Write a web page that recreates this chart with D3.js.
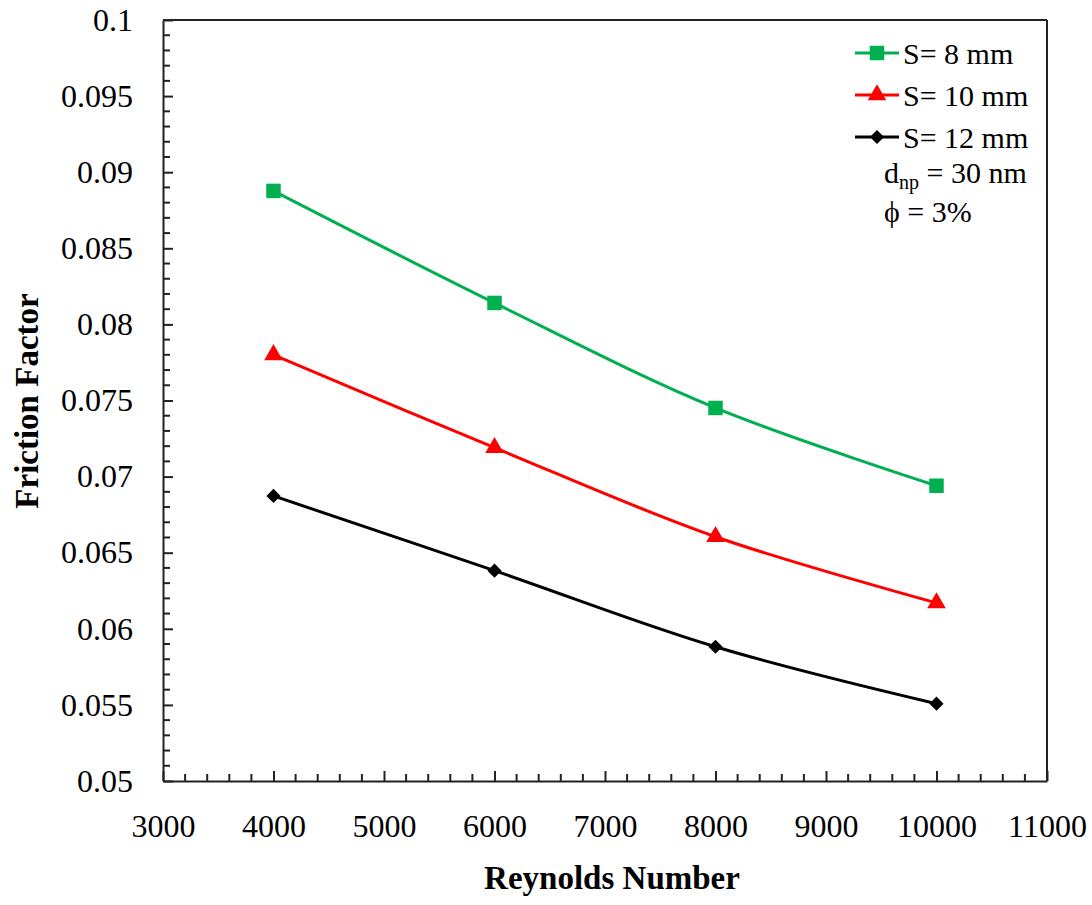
<!DOCTYPE html>
<html>
<head>
<meta charset="utf-8">
<script src="https://cdn.jsdelivr.net/npm/d3@7"></script>
<style>
  body { margin: 0; background: #fff; }
</style>
</head>
<body>
<div id="chart"></div>
<script>

let reynolds = [4000, 6000, 8000, 10000];
let f_s8 = [0.08877, 0.08141, 0.07451, 0.06940];
let f_s10 = [0.07800, 0.07190, 0.06605, 0.06170];
let f_s12 = [0.06873, 0.06382, 0.05882, 0.05508];
let series_names = ["S= 8 mm", "S= 10 mm", "S= 12 mm"];
let x_ticks = [3000, 4000, 5000, 6000, 7000, 8000, 9000, 10000, 11000];
let y_ticks = [0.05, 0.055, 0.06, 0.065, 0.07, 0.075, 0.08, 0.085, 0.09, 0.095, 0.1];

let font = "Liberation Serif";

let chart_width = 1092;
let chart_height = 905;

let margin_top = 20;
let margin_left = 163;
let margin_right = 45;
let margin_bottom = 124;

let width = chart_width - margin_left - margin_right;
let height = chart_height - margin_top - margin_bottom;

let svg = d3.select("#chart")
            .append("svg")
            .attr("width", chart_width)
            .attr("height", chart_height)
            .attr("font-family", font);

let g = svg.append("g")
           .attr("transform", "translate(" + margin_left + "," + margin_top + ")");

let xScale = d3.scaleLinear().domain([3000, 11000]).range([0, width]);
let yScale = d3.scaleLinear().domain([0.05, 0.1]).range([height, 0]);

// minor ticks
let x_minor = d3.range(3000, 11001, 200).filter(d => d % 1000 !== 0);
let y_minor = d3.range(50, 101, 1).map(d => d / 1000).filter(d => Math.round(d * 1000) % 5 !== 0);

g.selectAll(".x_minor")
    .data(x_minor)
    .enter()
    .append("line")
    .attr("x1", d => xScale(d))
    .attr("x2", d => xScale(d))
    .attr("y1", height)
    .attr("y2", height - 7)
    .attr("stroke", "#222")
    .attr("stroke-width", 2);

g.selectAll(".y_minor")
    .data(y_minor)
    .enter()
    .append("line")
    .attr("x1", 0)
    .attr("x2", 7)
    .attr("y1", d => yScale(d))
    .attr("y2", d => yScale(d))
    .attr("stroke", "#222")
    .attr("stroke-width", 2);

let x_axis = g.append("g")
    .attr("class", "x axis")
    .attr("transform", "translate(0," + height + ")")
    .call(d3.axisBottom(xScale).tickValues(x_ticks).tickSizeInner(-10).tickSizeOuter(0).tickPadding(33)
          .tickFormat(d3.format("d")));

let y_axis = g.append("g")
    .attr("class", "y axis")
    .call(d3.axisLeft(yScale).tickValues(y_ticks).tickSizeInner(-10).tickSizeOuter(0).tickPadding(30)
          .tickFormat(d => String(+d.toFixed(3))));

[x_axis, y_axis].forEach(function(ax) {
    ax.attr("font-family", font).attr("font-size", 32);
    ax.selectAll("path").attr("stroke", "#222").attr("stroke-width", 2);
    ax.selectAll("line").attr("stroke", "#222").attr("stroke-width", 2);
    ax.selectAll("text").attr("fill", "#000");
});

// frame top and right
g.append("line").attr("x1", 0).attr("x2", width).attr("y1", 0).attr("y2", 0)
    .attr("stroke", "#222").attr("stroke-width", 2);
g.append("line").attr("x1", width).attr("x2", width).attr("y1", 0).attr("y2", height)
    .attr("stroke", "#222").attr("stroke-width", 2);

let series = [
    { name: series_names[0], values: f_s8, color: "#00b050", marker: d3.symbolSquare, size: 210, rot: 0 },
    { name: series_names[1], values: f_s10, color: "#ff0000", marker: d3.symbolTriangle, size: 150, rot: 0 },
    { name: series_names[2], values: f_s12, color: "#000000", marker: d3.symbolSquare, size: 100, rot: 45 }
];

let line = d3.line()
    .x((d, i) => xScale(reynolds[i]))
    .y(d => yScale(d))
    .curve(d3.curveCatmullRom.alpha(0.5));

series.forEach(function(s) {
    g.append("path")
        .datum(s.values)
        .attr("d", line)
        .attr("fill", "none")
        .attr("stroke", s.color)
        .attr("stroke-width", 3);

    g.selectAll(null)
        .data(s.values)
        .enter()
        .append("path")
        .attr("d", d3.symbol().type(s.marker).size(s.size))
        .attr("transform", (d, i) => "translate(" + xScale(reynolds[i]) + "," + yScale(d) + ") rotate(" + s.rot + ")")
        .attr("fill", s.color);
});

// legend
let legend = svg.append("g").attr("transform", "translate(855,53)");
series.forEach(function(s, i) {
    let row = legend.append("g").attr("transform", "translate(0," + (i * 42) + ")");
    row.append("line")
        .attr("x1", 0).attr("x2", 44)
        .attr("y1", 0).attr("y2", 0)
        .attr("stroke", s.color)
        .attr("stroke-width", 3);
    row.append("path")
        .attr("d", d3.symbol().type(s.marker).size(s.size))
        .attr("transform", "translate(22,0) rotate(" + s.rot + ")")
        .attr("fill", s.color);
    row.append("text")
        .attr("x", 48)
        .attr("y", 11)
        .attr("font-size", 30)
        .text(s.name);
});

let dnp = svg.append("text")
    .attr("x", 884)
    .attr("y", 183)
    .attr("font-size", 30);
dnp.append("tspan").text("d");
dnp.append("tspan").attr("dy", 6).attr("font-size", 20).text("np");
dnp.append("tspan").attr("dy", -6).text(" = 30 nm");

svg.append("text")
    .attr("x", 884)
    .attr("y", 222)
    .attr("font-size", 30)
    .text("\u03d5 = 3%");

// axis titles
svg.append("text")
    .attr("x", 612)
    .attr("y", 889)
    .attr("text-anchor", "middle")
    .attr("font-size", 33)
    .attr("font-weight", "bold")
    .text("Reynolds Number");

svg.append("text")
    .attr("transform", "translate(38,401) rotate(-90)")
    .attr("text-anchor", "middle")
    .attr("font-size", 33)
    .attr("font-weight", "bold")
    .text("Friction Factor");

</script>
</body>
</html>
